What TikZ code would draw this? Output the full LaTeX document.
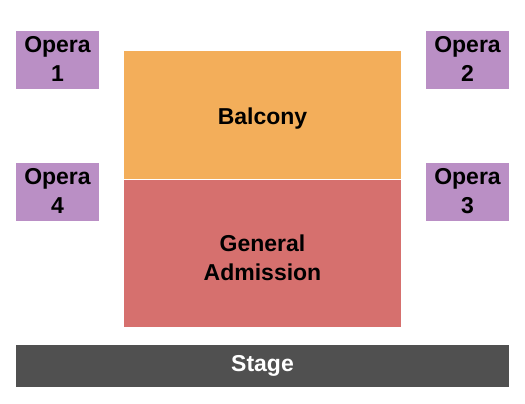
\documentclass[tikz,border=0pt]{standalone}
\usepackage{fontspec}
\setmainfont{Liberation Sans}
\definecolor{opera}{HTML}{BA8FC5}
\definecolor{balcony}{HTML}{F3AE5A}
\definecolor{ga}{HTML}{D6706E}
\definecolor{stagec}{HTML}{505050}
\begin{document}
\begin{tikzpicture}[x=1pt,y=-1pt,
  lbl/.style={font=\fontsize{23}{29}\selectfont\bfseries, align=center, inner sep=0pt}]
\useasboundingbox (0,0) rectangle (525,404);
\fill[white] (0,0) rectangle (525,404);
% boxes
\fill[opera] (16,31) rectangle (99,89);
\fill[opera] (426,31) rectangle (509,89);
\fill[opera] (16,163) rectangle (99,221);
\fill[opera] (426,163) rectangle (509,221);
\fill[balcony] (124,51) rectangle (401,179);
\fill[ga] (124,180) rectangle (401,327);
\fill[stagec] (16,345) rectangle (509,387);
% labels
\node[lbl] (o1) at (57.5,59) {Opera\\1};
\node[lbl] (o2) at (467.5,59) {Opera\\2};
\node[lbl] (o4) at (57.5,191) {Opera\\4};
\node[lbl] (o3) at (467.5,191) {Opera\\3};
\node[lbl] (bal) at (262.5,119) {Balcony};
\node[lbl] (gen) at (262.5,258) {General\\Admission};
\node[lbl, text=white] (stg) at (262.5,366) {Stage};
\end{tikzpicture}
\end{document}
